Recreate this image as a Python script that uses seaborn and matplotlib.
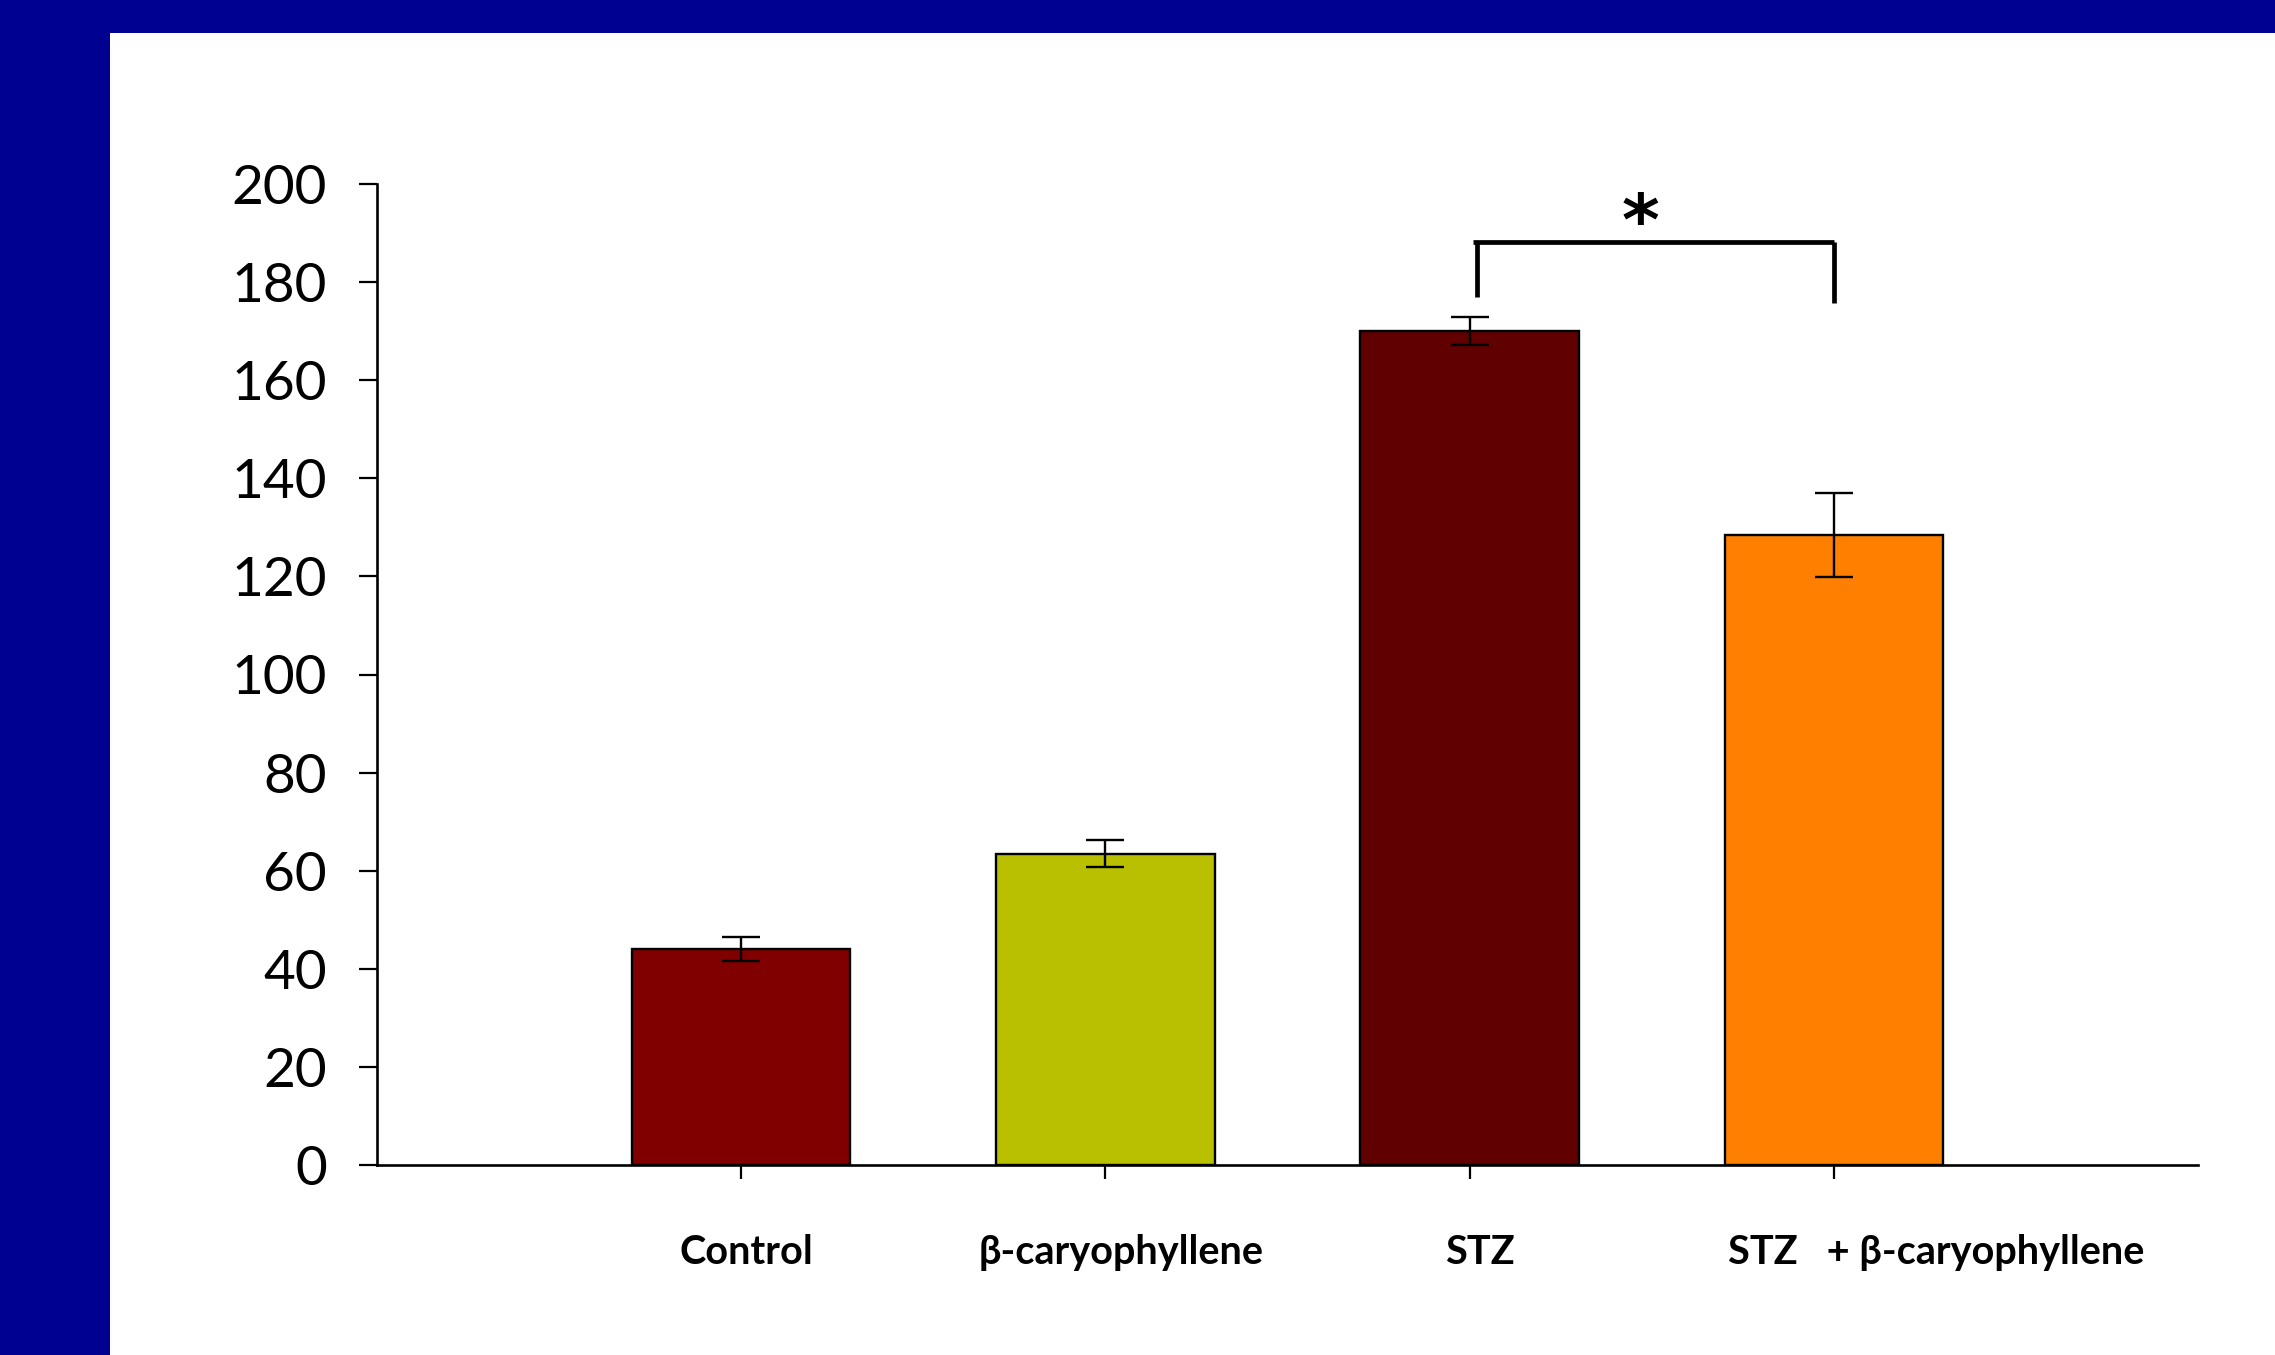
import matplotlib
matplotlib.use("Agg")
import matplotlib.pyplot as plt
import matplotlib.transforms as mtransforms
from matplotlib.patches import Rectangle
import seaborn as sns
import pandas as pd

# Group means and standard errors
groups = ["Control", "β-caryophyllene", "STZ", "STZ   + β-caryophyllene"]
means = [44.0, 63.5, 170.0, 128.4]
errors = [2.5, 2.8, 2.8, 8.6]
bar_colors = ["#800000", "#B8C000", "#600000", "#FF8000"]
y_ticks = [0, 20, 40, 60, 80, 100, 120, 140, 160, 180, 200]

# Significance bracket between STZ and STZ + β-caryophyllene
sig_pair = (2, 3)
sig_y = 188.2
sig_legs = (176.9, 175.7)
sig_text = "*"

sns.set_style("white")
plt.rcParams["font.family"] = ["Lato", "DejaVu Sans"]
plt.rcParams["text.color"] = "black"
plt.rcParams["xtick.labelcolor"] = "black"
plt.rcParams["ytick.labelcolor"] = "black"

navy = "#000091"
fig = plt.figure(figsize=(22.75, 13.55), dpi=100, facecolor=navy)
# white slide area inside the navy frame
fig.patches.append(Rectangle((110 / 2275, 0), 1 - 110 / 2275, 1 - 33 / 1355,
                             transform=fig.transFigure, facecolor="white",
                             edgecolor="none", zorder=-10))

ax = fig.add_axes([377 / 2275, 1 - 1165 / 1355, (2198 - 377) / 2275, (1165 - 184) / 1355])
ax.set_facecolor("none")

df = pd.DataFrame({"group": groups, "mean": means})
sns.barplot(data=df, x="group", y="mean", hue="group", palette=bar_colors,
            legend=False, edgecolor="black", linewidth=1.7, width=0.6,
            saturation=1, ax=ax, zorder=2)
ax.errorbar(range(len(groups)), means, yerr=errors, fmt="none", ecolor="black",
            elinewidth=1.7, capsize=14, capthick=1.7, zorder=3)

ax.set_xlim(-1.0, 4.0)
ax.set_ylim(0, 200)
ax.set_yticks(y_ticks)
ax.set_yticklabels([str(t) for t in y_ticks], fontsize=39.5)
ax.set_xlabel("")
ax.set_ylabel("")

for side in ["top", "right"]:
    ax.spines[side].set_visible(False)
for side in ["left", "bottom"]:
    ax.spines[side].set_color("black")
    ax.spines[side].set_linewidth(1.9)

ax.tick_params(axis="y", direction="out", length=13, width=1.6, color="black",
               left=True, pad=23)
ax.tick_params(axis="x", direction="out", length=10, width=1.6, color="black",
               bottom=True, pad=40)
ax.set_xticks(range(len(groups)))
ax.set_xticklabels(groups, fontsize=28.5, fontweight="bold")

# nudge category labels slightly to the right
shifts = [5, 16, 10, 102]
for lab, dx in zip(ax.get_xticklabels(), shifts):
    off = mtransforms.ScaledTranslation(dx / 100, 0, fig.dpi_scale_trans)
    lab.set_transform(lab.get_transform() + off)

# significance bracket
x0, x1 = sig_pair
ax.plot([x0 + 0.01, x1], [sig_y, sig_y], color="black", lw=3.4,
        clip_on=False, solid_capstyle="butt", zorder=4)
ax.plot([x0 + 0.02, x0 + 0.02], [sig_y, sig_legs[0]], color="black", lw=3.4,
        clip_on=False, solid_capstyle="butt", zorder=4)
ax.plot([x1, x1], [sig_y, sig_legs[1]], color="black", lw=3.4,
        clip_on=False, solid_capstyle="butt", zorder=4)
ax.text((x0 + x1) / 2 - 0.03, 187.6, sig_text, ha="center", va="baseline",
        fontsize=52, fontweight="bold", family=["DejaVu Sans"], clip_on=False)

fig.savefig("out.png", dpi=100, facecolor=navy)
